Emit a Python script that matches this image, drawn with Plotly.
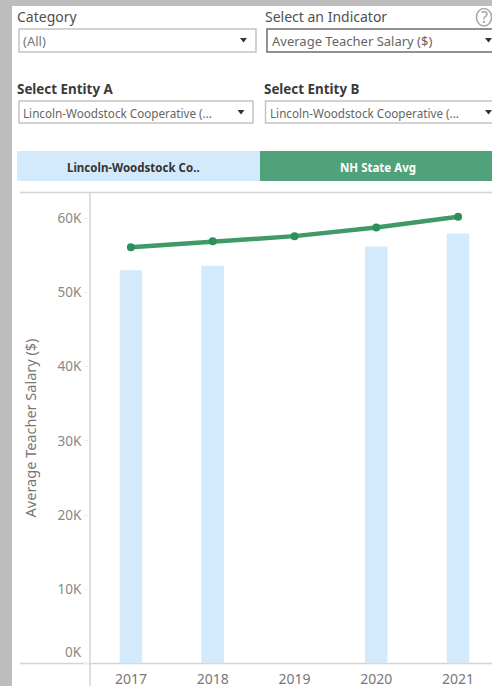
import plotly.graph_objects as go

W, H = 492, 686
years = ["2017", "2018", "2019", "2020", "2021"]
entity_a_salary = [53000, 53600, None, 56200, 57950]
state_avg_salary = [56100, 56900, 57600, 58750, 60200]
y_tick_vals = [0, 10000, 20000, 30000, 40000, 50000, 60000]
y_tick_text = ["", "10K", "20K", "30K", "40K", "50K", "60K"]

FONT = "Noto Sans"
LIGHT = "#d3eafd"
GREEN = "#4fa27a"
LINE = "#3f9a68"
DOT = "#2f8f5b"
BG = "#bdbdbd"

def px(x):
    return x / W

def py(y):
    return 1 - y / H

def rect(x0, y0, x1, y1, fill="rgba(0,0,0,0)", line=None, width=1, layer="below"):
    return dict(type="rect", xref="paper", yref="paper", x0=px(x0), x1=px(x1), y0=py(y0), y1=py(y1),
                fillcolor=fill, line=dict(color=line or "rgba(0,0,0,0)", width=width if line else 0), layer=layer)

def seg(x0, y0, x1, y1, color="#d4d4d4", width=1.5):
    return dict(type="line", xref="paper", yref="paper", x0=px(x0), x1=px(x1), y0=py(y0), y1=py(y1),
                line=dict(color=color, width=width), layer="below")

def tri(cx, cy, color="#333333"):
    p = lambda a, b: f"{px(a)} {py(b)}"
    return dict(type="path", xref="paper", yref="paper",
                path=f"M {p(cx-3.5, cy-2)} L {p(cx+3.5, cy-2)} L {p(cx, cy+2.5)} Z",
                fillcolor=color, line=dict(width=0))

def text(x, y, s, size=13, color="#444444", anchor="left", weight=None, angle=0):
    label = f"<b>{s}</b>" if weight else s
    return dict(xref="paper", yref="paper", x=px(x), y=py(y), text=label, showarrow=False, xanchor=anchor,
                yanchor="middle", font=dict(family=FONT, size=size, color=color), textangle=angle,
                xshift=0, yshift=0, borderpad=0, borderwidth=0)

shapes = [
    rect(12, 6, W + 5, H + 5, fill="white"),
    rect(19, 29, 256, 52, fill="white", line="#c4c4c4", width=1.5),
    rect(267, 29, W + 5, 52, fill="white", line="#6e6e6e", width=1.5),
    rect(19, 101, 253, 123, fill="white", line="#c4c4c4", width=1.5),
    rect(265.5, 101, W + 5, 123, fill="white", line="#c4c4c4", width=1.5),
    rect(17, 151, 260, 181, fill=LIGHT),
    rect(260, 151, W + 5, 181, fill=GREEN),
    seg(20, 192.5, W, 192.5),
    seg(20, 663.5, W, 663.5),
    seg(90, 192.5, 90, H),
    tri(243.5, 40),
    tri(488.5, 40),
    tri(241, 112),
    tri(488.5, 112),
    dict(type="circle", xref="paper", yref="paper", x0=px(476.5), x1=px(491.5), y0=py(8.5), y1=py(26),
         fillcolor="white", line=dict(color="#a8a8a8", width=1.5)),
]

annotations = [
    text(17, 17, "Category", 14, "#505050"),
    text(265, 17, "Select an Indicator", 14, "#505050"),
    text(23, 41, "(All)", 13, "#777777"),
    text(272, 41, "Average Teacher Salary ($)", 13, "#666666"),
    text(17, 88.5, "Select Entity A", 13.4, "#3a3a3a", weight=True),
    text(264, 88.5, "Select Entity B", 13.4, "#3a3a3a", weight=True),
    text(23, 113, "Lincoln-Woodstock Cooperative (...", 11.7, "#666666"),
    text(270, 113, "Lincoln-Woodstock Cooperative (...", 11.7, "#666666"),
    text(133, 167, "Lincoln-Woodstock Co..", 11.5, "#333333", "center", True),
    text(378, 167, "NH State Avg", 11.5, "#ffffff", "center", True),
    text(484, 17.5, "?", 16, "#a0a0a0", "center"),
    text(82, 652, "0K", 13.5, "#888888", "right"),
]

fig = go.Figure()
fig.add_bar(x=years, y=entity_a_salary, marker=dict(color=LIGHT, line=dict(width=0)), width=0.275,
            name="Lincoln-Woodstock Co..")
fig.add_scatter(x=years, y=state_avg_salary, mode="lines+markers", name="NH State Avg",
                line=dict(color=LINE, width=4.5), marker=dict(color=DOT, size=8))

fig.update_layout(
    width=W, height=H, autosize=False, showlegend=False,
    margin=dict(l=0, r=0, t=0, b=0),
    paper_bgcolor=BG, plot_bgcolor="white",
    font=dict(family=FONT),
    shapes=shapes, annotations=annotations,
    xaxis=dict(domain=[px(90), 1], type="category", range=[-0.5, 4.415], showgrid=False, zeroline=False,
               showline=False, ticks="outside", ticklen=3, tickcolor="rgba(0,0,0,0)",
               tickfont=dict(family=FONT, size=14, color="#777777"),
               automargin=False, fixedrange=True),
    yaxis=dict(domain=[py(663.5), py(192.5)], range=[0, 63480], showgrid=False, zeroline=False, showline=False,
               tickvals=y_tick_vals, ticktext=y_tick_text, ticks="outside", ticklen=5, tickcolor="#eeeeee",
               tickfont=dict(family=FONT, size=13.5, color="#888888"), automargin=False, fixedrange=True,
               title=dict(text="Average Teacher Salary ($)", standoff=17,
                          font=dict(family=FONT, size=14.5, color="#777777"))),
)

fig.write_html("out.html", config=dict(displayModeBar=False),
               post_script="document.body.style.margin='0';document.documentElement.style.overflow='hidden';")
